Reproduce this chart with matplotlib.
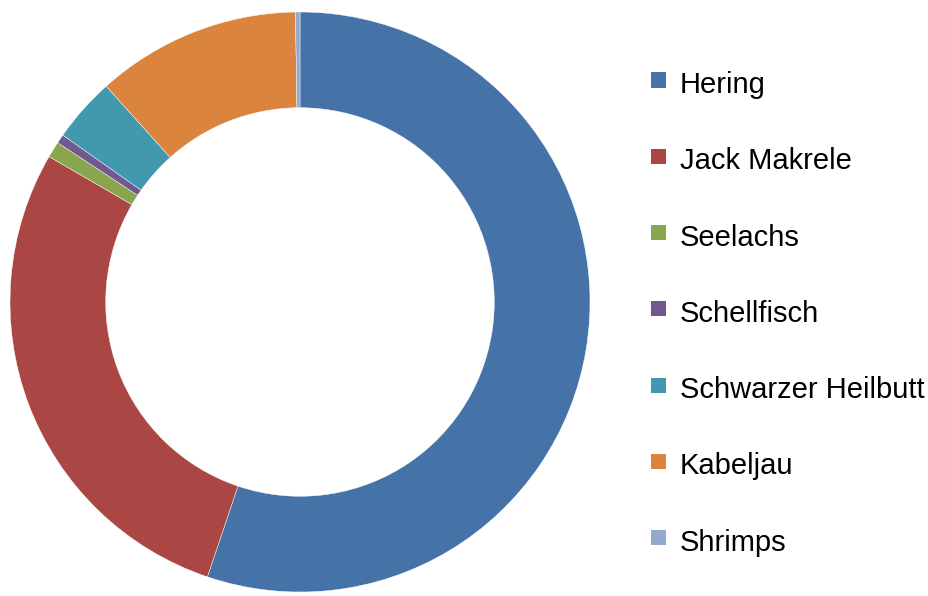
import matplotlib
matplotlib.use("Agg")
import matplotlib.pyplot as plt
from matplotlib.patches import Rectangle

plt.rcParams['font.family'] = ['Liberation Sans', 'DejaVu Sans']

# share of catch (percent)
labels = ["Hering", "Jack Makrele", "Seelachs", "Schellfisch",
          "Schwarzer Heilbutt", "Kabeljau", "Shrimps"]
values = [55.2, 28.2, 0.9, 0.5, 3.6, 11.4, 0.25]
colors = ["#4572A7", "#AA4643", "#89A54E", "#71588F",
          "#4198AF", "#DB843D", "#93A9CF"]

W, H = 929, 596
fig = plt.figure(figsize=(W / 100, H / 100), dpi=100)

# donut: centre (300, 302) px, outer radius 290 px
cx, cy, r = 300, 302, 290
ax = fig.add_axes([(cx - r) / W, (H - cy - r) / H, 2 * r / W, 2 * r / H])
wedges, _ = ax.pie(values, colors=colors, startangle=90, counterclock=False,
                   radius=1.0,
                   wedgeprops=dict(width=0.33, edgecolor="white", linewidth=0.3))
ax.set_aspect("equal")
ax.set_xlim(-1, 1)
ax.set_ylim(-1, 1)
ax.axis("off")

# legend drawn by hand (pixel layout)
base0, step = 93, 76.3
for i, (lab, col) in enumerate(zip(labels, colors)):
    yb = base0 + i * step
    sq = 15
    fig.patches.append(Rectangle((651 / W, (H - (yb - 13) - sq / 2) / H),
                                 sq / W, sq / H, transform=fig.transFigure,
                                 facecolor=col, edgecolor="none"))
    fig.text(680 / W, (H - yb) / H, lab, fontsize=21, color="black",
             ha="left", va="baseline")

fig.savefig("out.png", dpi=100, facecolor="white")
